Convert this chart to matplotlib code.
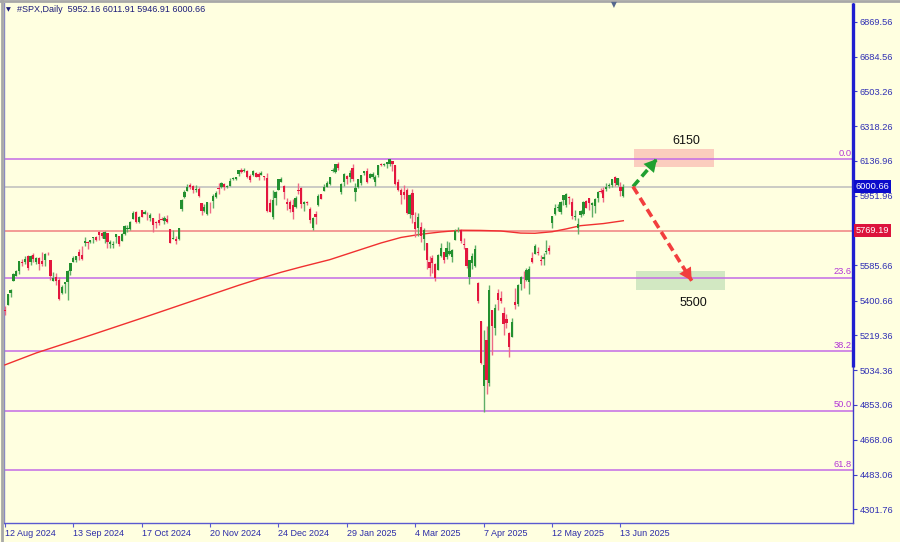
import matplotlib
matplotlib.use("Agg")
import matplotlib.pyplot as plt
import matplotlib.transforms as mtransforms
from matplotlib.lines import Line2D
from matplotlib.patches import Rectangle
import numpy as np

plt.rcParams['font.family'] = ['Liberation Sans', 'DejaVu Sans']

# ---------------- data ----------------
symbol = "#SPX"
timeframe = "Daily"

opens = [
    5351,5376,5442,5502,5531,5558,5603,5603,5637,5602,5639,5603,5624,5607,5612,
    5648,5612,5506,5524,5507,5443,5490,5496,5557,5603,5616,5655,5641,5703,5709,5711,5728,5733,5762,5756,5727,
    5758,5698,5693,5737,5738,5714,5751,5778,5775,5829,5866,5816,5875,5859,5857,5833,5834,5813,5826,5831,5819,5832,5776,
    5724,5725,5723,5884,5947,5976,6009,6003,5985,5989,5913,5870,5859,5918,5924,5947,5992,6000,6015,6000,6004,
    6040,6042,6069,6086,6081,6084,6058,6061,6074,6068,6063,6053,6048,5912,5842,5941,5984,6025,6006,5921,5920,
    5903,5892,5982,5994,5910,5918,5882,5782,5858,5906,5961,5980,6000,6014,6081,6077,6121,5970,6027,6057,6050,6097,
    5970,5998,6021,6073,6083,6047,6050,6026,6060,6116,6115,6121,6118,6134,6115,6027,5982,5971,5981,5857,
    5968,5812,5782,5789,5726,5705,5603,5624,5594,5563,5635,5655,5632,5647,5631,5718,5775,5772,5696,5679,5527,
    5598,5581,5492,5292,4953,5193,4966,5353,5255,5441,5412,5335,5306,5232,5207,5395,5381,5489,5530,5509,5499,
    5625,5646,5655,5616,5620,5658,5679,5808,5855,5888,5869,5930,5902,5944,5918,5842,5782,5850,5855,5925,5939,5903,
    5897,5938,5978,5985,5987,6005,6010,6050,6010,5999,5952.16,
]
highs = [
    5371,5436,5464,5545,5564,5609,5621,5633,5643,5641,5651,5628,5628,5655,5651,
    5655,5616,5552,5546,5523,5484,5497,5560,5600,5637,5637,5671,5690,5734,5716,5721,5735,5742,5767,5764,5765,
    5758,5720,5715,5753,5739,5758,5796,5796,5822,5871,5870,5846,5879,5878,5867,5863,5835,5817,5862,5843,5848,5851,5780,
    5772,5741,5784,5933,5983,6013,6018,6008,6009,6000,5916,5909,5921,5921,5964,5975,6020,6026,6020,6010,6044,
    6053,6052,6088,6099,6099,6089,6066,6090,6080,6078,6085,6058,6070,5935,5982,5978,6041,6049,6007,5941,5930,
    5936,5950,6022,6001,5927,5925,5891,5838,5871,5960,5964,6014,6030,6051,6100,6119,6128,6018,6070,6063,6087,6120,
    6022,6042,6062,6084,6101,6073,6077,6064,6116,6127,6125,6130,6145,6134,6115,6043,5993,6009,5994,5960,
    5986,5865,5861,5812,5783,5705,5636,5642,5598,5645,5703,5659,5715,5711,5670,5776,5786,5777,5732,5680,5615,
    5650,5695,5500,5292,5246,5268,5481,5353,5381,5460,5450,5368,5328,5233,5310,5469,5486,5528,5554,5571,5581,
    5659,5700,5684,5639,5650,5720,5691,5845,5907,5907,5925,5958,5968,5953,5939,5878,5833,5880,5923,5929,5943,5922,
    5938,5978,5991,5999,6017,6021,6043,6059,6045,6026,6011.91,
]
lows = [
    5324,5376,5418,5502,5531,5541,5585,5591,5561,5586,5603,5594,5561,5582,5581,
    5640,5511,5503,5485,5403,5434,5442,5406,5536,5602,5605,5614,5615,5690,5674,5703,5703,5715,5721,5728,5703,
    5675,5680,5675,5702,5687,5714,5745,5763,5771,5829,5807,5808,5840,5856,5825,5822,5763,5785,5800,5823,5802,5810,5703,
    5723,5696,5722,5874,5943,5976,5986,5965,5970,5946,5853,5865,5851,5860,5886,5939,5963,5993,5985,5995,6004,
    6035,6034,6057,6070,6079,6048,6023,6059,6051,6036,6060,6036,5867,5866,5832,5903,5983,6024,5933,5880,5869,
    5829,5888,5960,5890,5874,5905,5809,5773,5802,5896,5936,5975,5998,6007,6076,6074,6089,5962,6002,6012,6025,6030,
    5923,5991,6008,6060,6020,6044,6043,6004,6051,6107,6110,6100,6111,6084,6008,5977,5909,5933,5858,5837,
    5810,5733,5742,5711,5667,5565,5529,5547,5505,5563,5632,5598,5622,5641,5604,5718,5764,5704,5670,5573,5489,
    5566,5577,5390,5069,4812,4910,4950,5115,5221,5349,5387,5221,5255,5102,5207,5357,5372,5456,5468,5506,5434,
    5597,5645,5640,5590,5587,5645,5644,5784,5850,5870,5858,5904,5895,5910,5831,5826,5750,5840,5850,5886,5875,5843,
    5862,5922,5967,5921,5978,5994,6000,6003,6003,5953,5946.91,
]
closes = [
    5344,5434,5455,5543,5554,5608,5597,5621,5571,5635,5617,5626,5592,5592,5648,
    5645,5529,5520,5503,5408,5471,5496,5554,5596,5626,5633,5635,5618,5714,5703,5719,5733,5722,5745,5738,5762,
    5709,5710,5700,5751,5696,5751,5792,5780,5815,5860,5815,5842,5841,5865,5854,5851,5797,5810,5808,5824,5833,5814,5705,
    5729,5713,5783,5929,5973,5996,6001,5984,5985,5949,5871,5894,5917,5917,5949,5969,5987,6022,5999,6005,6032,
    6047,6050,6086,6075,6090,6053,6035,6084,6051,6051,6074,6051,5872,5867,5931,5974,6040,6038,5971,5907,5882,
    5869,5942,5975,5909,5918,5912,5827,5836,5843,5950,5937,5997,6020,6049,6086,6119,6101,6012,6068,6039,6071,6041,
    5995,6038,6061,6084,6026,6066,6069,6052,6115,6115,6120,6130,6144,6118,6013,5983,5955,5956,5862,5955,
    5850,5778,5843,5739,5770,5615,5572,5599,5522,5639,5675,5615,5675,5663,5668,5768,5777,5712,5693,5581,5612,
    5633,5671,5397,5074,5062,4983,5457,5268,5363,5406,5397,5276,5283,5158,5288,5376,5485,5525,5529,5561,5569,
    5604,5687,5650,5607,5631,5664,5660,5844,5887,5893,5917,5958,5964,5940,5845,5842,5803,5870,5922,5889,5912,5912,
    5936,5970,5971,5939,6000,6006,6039,6022,6045,5977,6000.66,
]

# 200-period moving average at selected bars
ma_bars = [0, 11, 30, 50, 70, 82, 90, 97, 104, 114, 124, 132, 139, 146, 153, 160, 167, 174, 181, 186, 192, 197, 202, 210, 217]
ma_vals = [5062, 5125, 5218, 5318, 5420, 5481, 5519, 5550, 5578, 5616, 5665, 5704, 5733, 5750, 5762, 5771, 5770, 5767, 5756, 5755, 5763, 5778, 5795, 5806, 5821]

date_tick_bars = [0, 24, 48, 72, 96, 120, 144, 168, 192, 216]
date_tick_labels = ['12 Aug 2024', '13 Sep 2024', '17 Oct 2024', '20 Nov 2024', '24 Dec 2024',
                    '29 Jan 2025', '4 Mar 2025', '7 Apr 2025', '12 May 2025', '13 Jun 2025']
price_ticks = [6869.56, 6684.56, 6503.26, 6318.26, 6136.96, 5951.96, 5585.66, 5400.66,
               5219.36, 5034.36, 4853.06, 4668.06, 4483.06, 4301.76]

bid_price = 6000.66
hline_price = 5769.19
fib_high = 6145
fib_low = 3495
fib_ratios = [0.0, 23.6, 38.2, 50.0, 61.8]

target_up = 6150
target_down = 5500
zone_up = (6104, 6198)
zone_down = (5456, 5558)

# ---------------- style ----------------
BG = '#FFFFE0'
BULL = '#23902F'
BEAR = '#E3173E'
AXIS_BLUE = '#3C3CC8'
TXT_BLUE = '#3030B4'
FIB_LINE = '#C46BE6'
FIB_TXT = '#B336D6'
FS = 6.7

W, H = 900, 542
fig = plt.figure(figsize=(W / 100, H / 100), dpi=100, facecolor=BG)
ax = fig.add_axes([4 / W, 19 / H, 849 / W, 520 / H])
ax.set_facecolor(BG)

o = np.array(opens, float)
h = np.array(highs, float)
l = np.array(lows, float)
c = np.array(closes, float)
x = np.arange(len(c))
last = x[-1]

px_per_bar = 2.85
x0 = -0.3
ax.set_xlim(x0, x0 + 849 / px_per_bar)
ax.set_ylim(4230, 6967)

# horizontal levels
ax.axhline(bid_price, color='#BDBDBD', lw=1.1, zorder=2)
ax.axhline(hline_price, color='#F08080', lw=1.1, zorder=2)
fib_levels = [fib_high - (fib_high - fib_low) * r / 100 for r in fib_ratios]
blend = mtransforms.blended_transform_factory(ax.transAxes, ax.transData)
for r, lv in zip(fib_ratios, fib_levels):
    ax.axhline(lv, color=FIB_LINE, lw=1.1, zorder=2)
    ax.text(0.9985, lv + 8, f"{r:.1f}", transform=blend, ha='right', va='bottom',
            color=FIB_TXT, fontsize=FS, zorder=5)

# target zones
ax.add_patch(Rectangle((last + 3.7, zone_up[0]), 28.1, zone_up[1] - zone_up[0],
                       facecolor='#FBCDBE', edgecolor='none', zorder=1))
ax.add_patch(Rectangle((last + 4.4, zone_down[0]), 31.2, zone_down[1] - zone_down[0],
                       facecolor='#D2E8C2', edgecolor='none', zorder=1))

# moving average
ax.plot(ma_bars, ma_vals, color='#F03030', lw=1.0, zorder=3)

# candles
up = c >= o
body_col = np.where(up, BULL, BEAR)
wick_col = np.where(up, '#5FAE66', '#EE6A85')
ax.vlines(x, l, h, colors=wick_col, lw=1.0, zorder=4)
bottom = np.minimum(o, c)
height = np.maximum(np.abs(c - o), 3)
ax.bar(x, height, bottom=bottom, width=0.8, color=body_col, lw=0, zorder=5)

# forecast arrows
start = (last + 3.4, c[-1])
up_tip = (last + 11.8, target_up - 4)
dn_tip = (last + 24.0, target_down + 5)
for tip, col in [(up_tip, '#20A030'), (dn_tip, '#F23E3E')]:
    ax.plot([start[0], tip[0]], [start[1], tip[1]], color=col, lw=2.6,
            ls=(0, (2.4, 1.3)), solid_capstyle='butt', dash_capstyle='butt', zorder=6)
    ax.annotate('', xy=tip, xytext=start,
                arrowprops=dict(arrowstyle='-|>,head_length=1.0,head_width=0.55',
                                mutation_scale=9, color=col, lw=0,
                                shrinkA=0, shrinkB=0), zorder=7)
ax.text(last + 22.0, target_up + 92, f"{target_up}", ha='center', va='center',
        fontsize=9, color='#111111', zorder=7)
ax.text(last + 24.6, target_down - 112, f"{target_down}", ha='center', va='center',
        fontsize=9, color='#111111', zorder=7)

# axes styling
ax.spines['top'].set_visible(False)
ax.spines['right'].set_color(AXIS_BLUE)
ax.spines['bottom'].set_color('#5A5AD0')
ax.spines['left'].set_color('#8A8AC0')
for s in ['right', 'bottom', 'left']:
    ax.spines[s].set_linewidth(1.0)
# thick part of the price scale
ax.plot([1, 1], [6967, 5049], transform=blend, color='#1E1ED0', lw=2.4,
        clip_on=False, zorder=8, solid_capstyle='butt')

ax.yaxis.tick_right()
ax.set_yticks(price_ticks)
ax.set_yticklabels([f"{v:.2f}" for v in price_ticks])
ax.tick_params(axis='y', length=3, width=0.8, color=AXIS_BLUE, labelcolor=TXT_BLUE,
               labelsize=FS, pad=2)
ax.set_xticks(date_tick_bars)
ax.set_xticklabels(date_tick_labels)
ax.tick_params(axis='x', length=3, width=0.8, color='#5A5AD0', labelcolor='#2B2BA8',
               labelsize=6.5, pad=1.5)
for lbl in ax.get_xticklabels():
    lbl.set_ha('left')

# price tags
ax.text(1.003, bid_price, f"{bid_price:.2f}", transform=blend, ha='left', va='center',
        fontsize=FS, color='white', clip_on=False, zorder=10,
        bbox=dict(boxstyle='square,pad=0.2', fc='#0B0BCB', ec='none'))
ax.text(1.003, hline_price, f"{hline_price:.2f}", transform=blend, ha='left', va='center',
        fontsize=FS, color='white', clip_on=False, zorder=10,
        bbox=dict(boxstyle='square,pad=0.2', fc='#DC143C', ec='none'))

# header
fig.text(6 / W, 1 - 10 / H, '▼', fontsize=4.5, color='#1C1C7A', va='center', ha='left',
         family='DejaVu Sans')
header = f"{symbol},{timeframe}  " + " ".join(f"{v:.2f}" for v in (o[-1], h[-1], l[-1], c[-1]))
fig.text(17 / W, 1 - 10 / H, header, fontsize=6.5, color='#1C1C7A', va='center', ha='left')

# chart-shift marker
fig.text(614 / W, 1 - 5 / H, '▼', fontsize=5.5, color='#56688E', va='center', ha='center',
         family='DejaVu Sans')

# window frame
fig.add_artist(Line2D([0, 1], [1 - 1 / H, 1 - 1 / H], transform=fig.transFigure,
                      color='#A8A8A8', lw=2))
fig.add_artist(Line2D([1.5 / W, 1.5 / W], [0, 1], transform=fig.transFigure,
                      color='#A8A8A8', lw=2))

fig.savefig('out.png', dpi=100, facecolor=BG)
